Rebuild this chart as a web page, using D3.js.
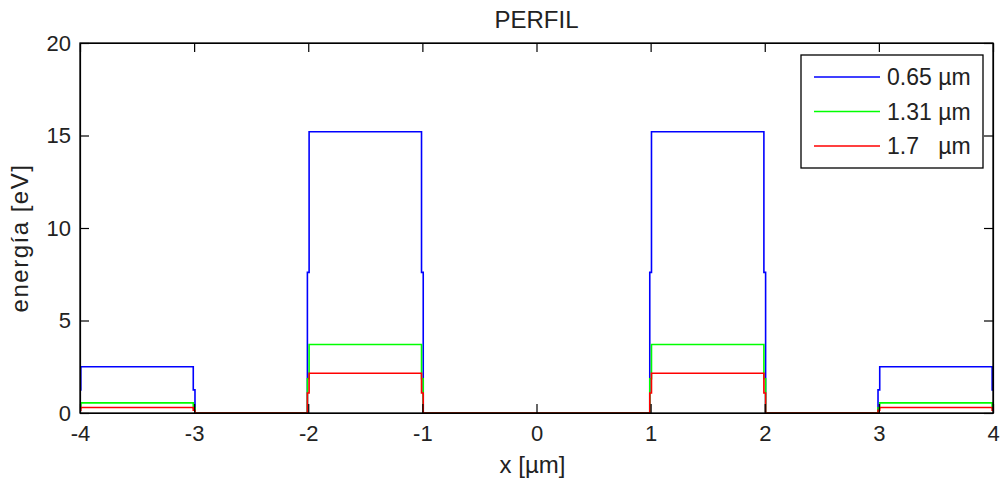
<!DOCTYPE html>
<html>
<head>
<meta charset="utf-8">
<script src="https://cdn.jsdelivr.net/npm/d3@7"></script>
<style>
  body { margin: 0; background: #fff; }
  svg { font-family: "Liberation Sans", Arial, sans-serif; }
  .axis path, .axis line { stroke: #000; stroke-width: 1.2; }
  .axis text { fill: #222; }
</style>
</head>
<body>
<div id="chart"></div>
<script>
// sample positions of the profile (um)
const xPts = [-4, -3.985, -3.015, -3, -2.985, -2.015, -2, -1.985, -1.015, -1, -0.985,
              0.985, 1, 1.015, 1.985, 2, 2.015, 2.985, 3, 3.015, 3.985, 4];
// energy values (eV) for each wavelength
const blueE  = [1.25, 2.5, 2.5, 1.25, 0, 0, 7.6, 15.2, 15.2, 7.6, 0,
                0, 7.6, 15.2, 15.2, 7.6, 0, 0, 1.25, 2.5, 2.5, 1.25];
const greenE = [0.28, 0.55, 0.55, 0.28, 0, 0, 1.85, 3.7, 3.7, 1.85, 0,
                0, 1.85, 3.7, 3.7, 1.85, 0, 0, 0.28, 0.55, 0.55, 0.28];
const redE   = [0.15, 0.3, 0.3, 0.15, 0, 0, 1.08, 2.15, 2.15, 1.08, 0,
                0, 1.08, 2.15, 2.15, 1.08, 0, 0, 0.15, 0.3, 0.3, 0.15];
const seriesNames = ["0.65 \u00b5m", "1.31 \u00b5m", "1.7   \u00b5m"];
const seriesColors = ["#0000ff", "#00ff00", "#ff0000"];
const xTicks = [-4, -3, -2, -1, 0, 1, 2, 3, 4];
const yTicks = [0, 5, 10, 15, 20];

const width = 1000, height = 483;
const margin = {top: 43, right: 7, bottom: 70, left: 80};
const w = width - margin.left - margin.right;
const h = height - margin.top - margin.bottom;

const svg = d3.select("#chart").append("svg")
    .attr("width", width)
    .attr("height", height);

const g = svg.append("g")
    .attr("transform", "translate(" + margin.left + "," + margin.top + ")");

const x = d3.scaleLinear().domain([-4, 4]).range([0, w]);
const y = d3.scaleLinear().domain([0, 20]).range([h, 0]);

// profile lines
const line = d3.line()
    .x(d => x(d[0]))
    .y(d => y(d[1]))
    .curve(d3.curveStep);

[blueE, greenE, redE].forEach((vals, i) => {
    let pts = xPts.map((xv, j) => [xv, vals[j]]);
    g.append("path")
        .attr("d", line(pts))
        .attr("fill", "none")
        .attr("stroke", seriesColors[i])
        .attr("stroke-width", 1.6);
});

// axes (ticks inside, mirrored on top/right)
const fmt = d => String(d);
const tickLen = 9;

g.append("g").attr("class", "axis")
    .attr("transform", "translate(0," + h + ")")
    .call(d3.axisBottom(x).tickValues(xTicks).tickFormat(fmt).tickSizeInner(-tickLen).tickSizeOuter(0).tickPadding(12))
    .call(s => s.selectAll("text").style("font-size", "22px"));

g.append("g").attr("class", "axis")
    .call(d3.axisTop(x).tickValues(xTicks).tickFormat("").tickSizeInner(-tickLen).tickSizeOuter(0));

g.append("g").attr("class", "axis")
    .call(d3.axisLeft(y).tickValues(yTicks).tickFormat(fmt).tickSizeInner(-tickLen).tickSizeOuter(0).tickPadding(9))
    .call(s => s.selectAll("text").style("font-size", "22px"));

g.append("g").attr("class", "axis")
    .attr("transform", "translate(" + w + ",0)")
    .call(d3.axisRight(y).tickValues(yTicks).tickFormat("").tickSizeInner(-tickLen).tickSizeOuter(0));

g.append("rect")
    .attr("width", w).attr("height", h)
    .attr("fill", "none").attr("stroke", "#000").attr("stroke-width", 1.3);

// title and labels
svg.append("text")
    .attr("x", margin.left + w / 2)
    .attr("y", 28)
    .attr("text-anchor", "middle")
    .style("font-size", "24px")
    .attr("fill", "#222")
    .text("PERFIL");

svg.append("text")
    .attr("x", margin.left + w / 2 - 4)
    .attr("y", 473)
    .attr("text-anchor", "middle")
    .style("font-size", "24px")
    .attr("fill", "#222")
    .text("x [\u00b5m]");

svg.append("text")
    .attr("transform", "translate(28," + (margin.top + h / 2 + 10) + ") rotate(-90)")
    .attr("text-anchor", "middle")
    .style("font-size", "24px")
    .style("letter-spacing", "1.5px")
    .attr("fill", "#222")
    .text("energ\u00eda [eV]");

// legend
const lg = svg.append("g").attr("transform", "translate(801,55)");
lg.append("rect")
    .attr("width", 182).attr("height", 113)
    .attr("fill", "#fff").attr("stroke", "#000").attr("stroke-width", 1.3);

seriesNames.forEach((name, i) => {
    let yy = 22 + i * 34.5;
    lg.append("line")
        .attr("x1", 13).attr("x2", 79)
        .attr("y1", yy).attr("y2", yy)
        .attr("stroke", seriesColors[i]).attr("stroke-width", 1.6);
    lg.append("text")
        .attr("x", 86).attr("y", yy + 8)
        .style("font-size", "23px")
        .style("white-space", "pre")
        .attr("fill", "#222")
        .text(name);
});
</script>
</body>
</html>
